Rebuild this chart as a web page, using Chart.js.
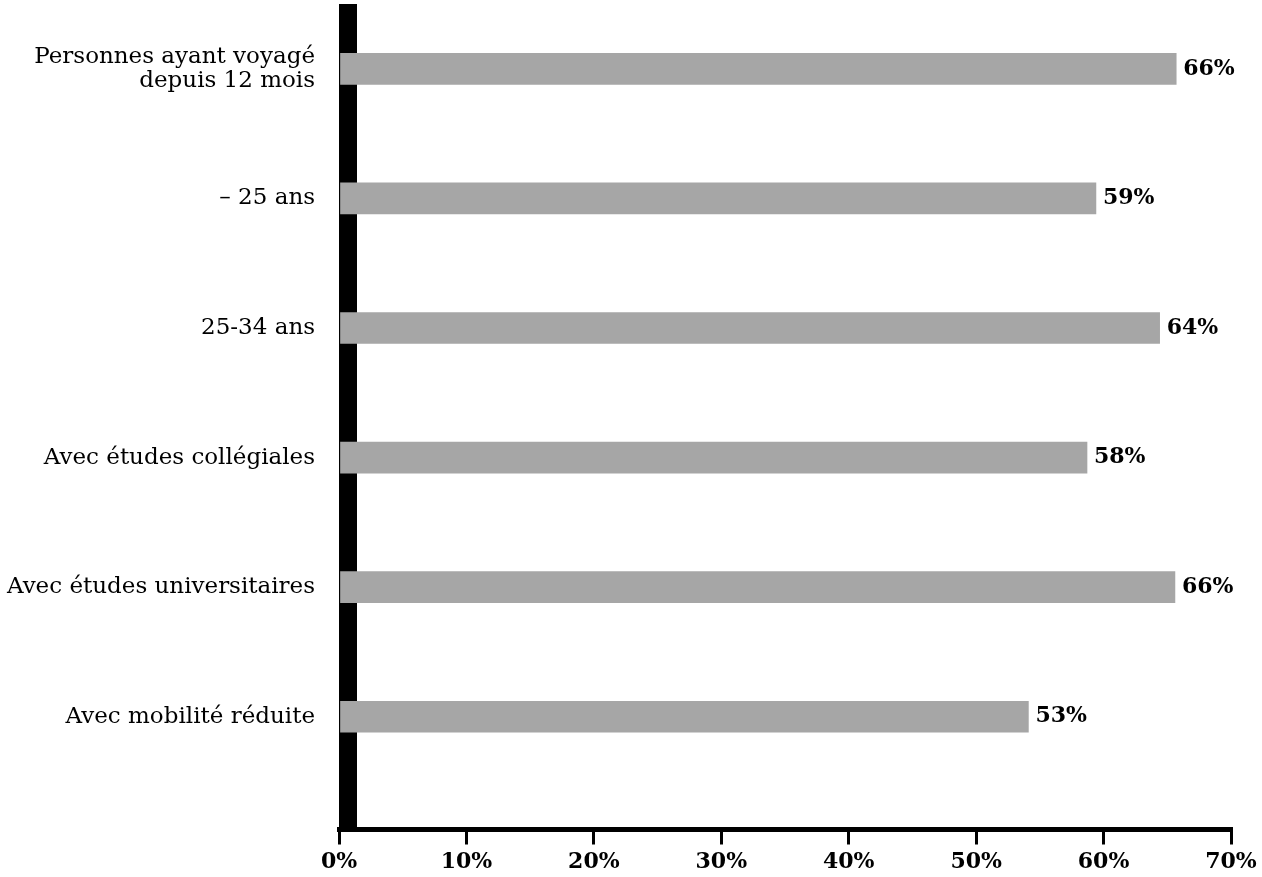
<!DOCTYPE html>
<html><head><meta charset="utf-8">
<script src="https://cdn.jsdelivr.net/npm/chart.js@4"></script>
<style>html,body{margin:0;padding:0;background:#fff}#wrap{width:1262px;height:877px;position:relative}</style>
</head><body><div id="wrap"><canvas id="c"></canvas></div>
<script>
const categories = [["Personnes ayant voyagé", "depuis 12 mois"], "– 25 ans", "25-34 ans", "Avec études collégiales", "Avec études universitaires", "Avec mobilité réduite"];
const values = [65.7, 59.4, 64.4, 58.7, 65.6, 54.1];
const valueLabels = ["66%", "59%", "64%", "58%", "66%", "53%"];
const xTicks = [0, 10, 20, 30, 40, 50, 60, 70];
const xTickLabels = ["0%", "10%", "20%", "30%", "40%", "50%", "60%", "70%"];

const SERIF = "'DejaVu Serif', 'Liberation Serif', serif";

const blackAxis = {
  id: 'blackAxis',
  beforeDatasetsDraw(chart) {
    const {ctx, chartArea, scales: {x}} = chart;
    const x0 = x.getPixelForValue(0);
    ctx.save();
    ctx.fillStyle = '#000';
    ctx.fillRect(x0, chartArea.top, 18, chartArea.bottom - chartArea.top - 2);
    ctx.restore();
  }
};
const valueText = {
  id: 'valueText',
  afterDatasetsDraw(chart) {
    const {ctx} = chart;
    const meta = chart.getDatasetMeta(0);
    ctx.save();
    ctx.font = "bold 22px " + SERIF;
    ctx.fillStyle = '#000';
    ctx.textAlign = 'left';
    ctx.textBaseline = 'middle';
    meta.data.forEach((el, i) => {
      ctx.fillText(valueLabels[i], el.x + 7, el.y);
    });
    ctx.restore();
  }
};

new Chart(document.getElementById('c'), {
  type: 'bar',
  data: {
    datasets: [{
      data: values.map((v, i) => ({x: v, y: i})),
      backgroundColor: '#a6a6a6',
      borderWidth: 0,
      barThickness: 31
    }]
  },
  options: {
    indexAxis: 'y',
    responsive: true,
    maintainAspectRatio: false,
    animation: false,
    layout: {padding: {top: 4, left: 0, right: 0, bottom: 0}},
    plugins: {legend: {display: false}, tooltip: {enabled: false}},
    scales: {
      y: {
        type: 'linear',
        reverse: true,
        offset: false,
        min: -0.5,
        max: 5.87,
        grid: {display: false, drawTicks: false, offset: false},
        border: {display: false},
        afterBuildTicks: (s) => { s.ticks = categories.map((_, i) => ({value: i})); },
        afterFit: (s) => { s.width = 339; s.paddingTop = 0; s.paddingBottom = 0; },
        ticks: {
          autoSkip: false,
          padding: 24,
          color: '#000',
          font: {family: SERIF, size: 23, lineHeight: 1.05},
          callback: (v) => categories[v]
        }
      },
      x: {
        type: 'linear',
        min: 0,
        max: 70,
        grid: {drawOnChartArea: false, drawTicks: true, tickLength: 15, lineWidth: 3, color: '#000'},
        border: {display: true, width: 5, color: '#000'},
        afterBuildTicks: (s) => { s.ticks = xTicks.map(v => ({value: v})); },
        afterFit: (s) => { s.height = 47.5; s.paddingRight = 31; s.paddingLeft = 0; },
        ticks: {
          autoSkip: false,
          maxRotation: 0,
          padding: 5,
          color: '#000',
          font: {family: SERIF, size: 22, weight: 'bold'},
          callback: (v) => xTickLabels[xTicks.indexOf(v)]
        }
      }
    }
  },
  plugins: [blackAxis, valueText]
});
</script>
</body></html>
